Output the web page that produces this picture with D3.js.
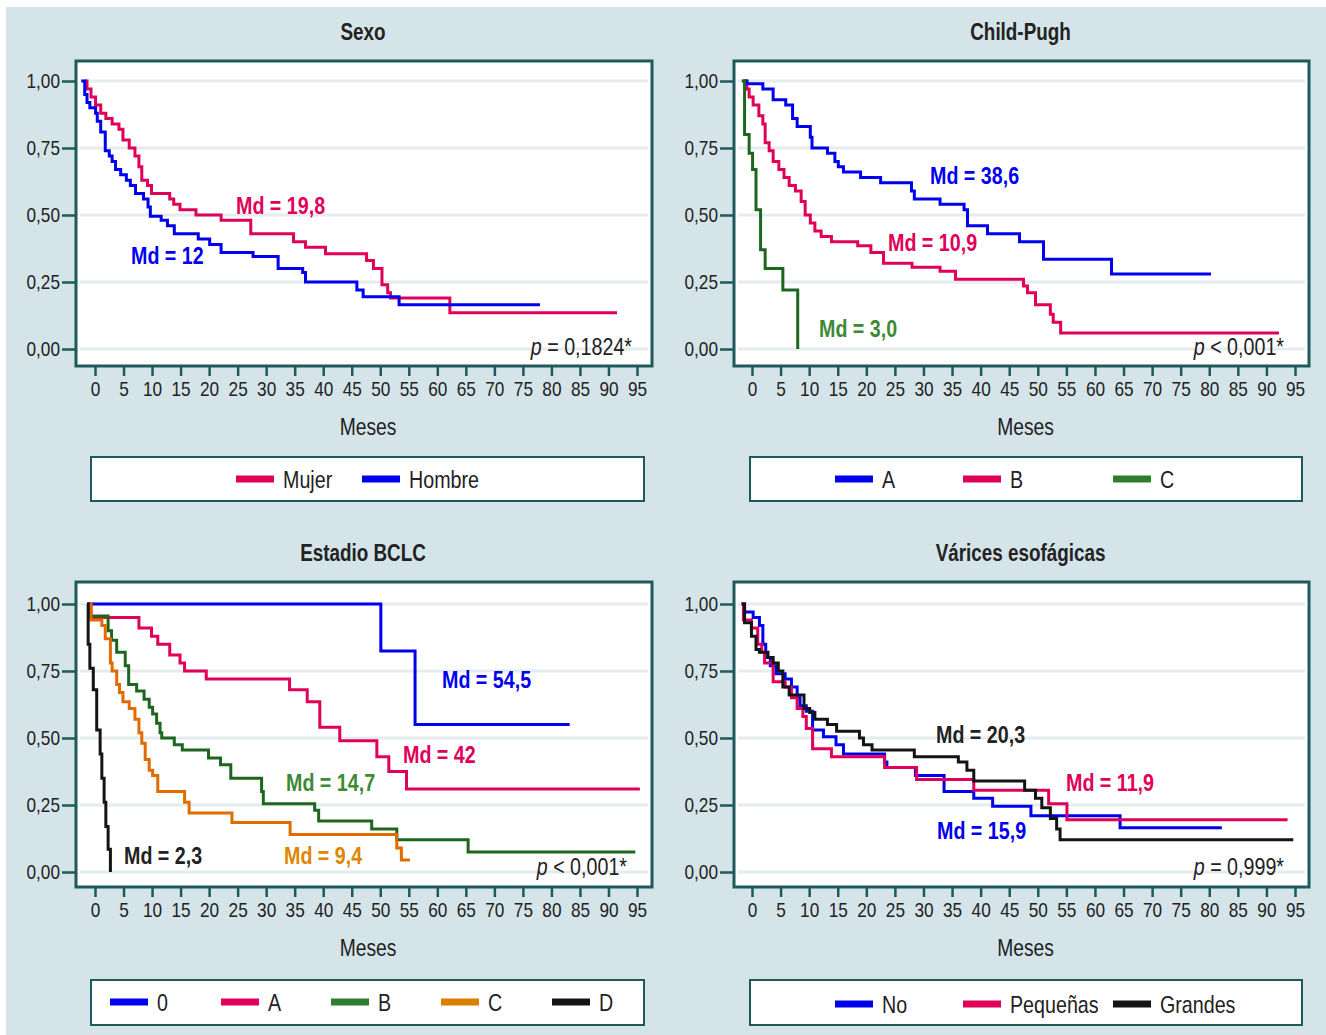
<!DOCTYPE html>
<html><head><meta charset="utf-8">
<script src="https://cdn.jsdelivr.net/npm/d3@7"></script>
<style>
body{margin:0;background:#fff;}
text{font-family:"Liberation Sans",Arial,sans-serif;}
</style></head><body>
<svg id="c" width="1326" height="1035"></svg>
<script>
// ---------- DATA ----------
const xTicks = [0,5,10,15,20,25,30,35,40,45,50,55,60,65,70,75,80,85,90,95];
const yTicks = [0,0.25,0.5,0.75,1];
const yTickLabels = ["0,00","0,25","0,50","0,75","1,00"];
const titles = ["Sexo","Child-Pugh","Estadio BCLC","Várices esofágicas"];
const pValues = ["= 0,1824*","< 0,001*","< 0,001*","= 0,999*"];

// Sexo
const sexoCategories = ["Mujer","Hombre"];
const mujer = [[-1.8,1],[-1.4,0.97],[-0.7,0.94],[0.1,0.91],[1.0,0.88],[1.9,0.86],[3.0,0.84],[4.2,0.82],[4.9,0.78],[6.0,0.75],[7.0,0.72],[7.7,0.68],[8.2,0.63],[9.2,0.61],[9.9,0.58],[13.1,0.56],[13.8,0.54],[14.9,0.52],[17.7,0.50],[22.1,0.48],[27.3,0.43],[34.8,0.40],[36.9,0.38],[40.4,0.355],[47.6,0.33],[48.8,0.30],[50.3,0.24],[51.3,0.21],[51.8,0.19],[62.2,0.135],[91.5,0.135]];
const hombre = [[-2.4,1],[-1.8,0.95],[-1.4,0.92],[-0.9,0.90],[0.1,0.88],[0.4,0.85],[1.0,0.81],[1.8,0.74],[2.5,0.72],[3.0,0.70],[3.6,0.67],[4.5,0.65],[5.5,0.63],[6.2,0.61],[7.1,0.58],[8.5,0.56],[9.3,0.53],[9.7,0.495],[11.6,0.48],[12.7,0.46],[13.9,0.43],[18.1,0.41],[20.1,0.39],[22.1,0.36],[27.7,0.345],[32.1,0.30],[36.4,0.285],[36.9,0.25],[45.9,0.22],[47.0,0.195],[53.3,0.165],[78.0,0.165]];
const sexoMedians = ["Md = 19,8","Md = 12"];

// Child-Pugh
const cpCategories = ["A","B","C"];
const cpA = [[-1.6,1],[-0.9,0.99],[1.9,0.97],[3.7,0.93],[5.9,0.91],[7.1,0.86],[7.9,0.83],[10.2,0.79],[10.5,0.75],[13.2,0.73],[14.5,0.70],[15.1,0.68],[16.0,0.66],[19.0,0.64],[22.5,0.62],[27.9,0.59],[28.4,0.56],[32.9,0.54],[37.1,0.52],[37.7,0.46],[41.2,0.43],[46.8,0.40],[51.0,0.335],[62.9,0.28],[80.3,0.28]];
const cpB = [[-1.3,1],[-0.9,0.97],[-0.5,0.94],[0.2,0.91],[1.2,0.87],[1.9,0.84],[2.3,0.77],[3.0,0.74],[3.7,0.70],[4.7,0.67],[5.6,0.64],[6.5,0.61],[7.6,0.59],[8.6,0.55],[9.3,0.50],[10.2,0.47],[11.0,0.44],[12.1,0.42],[13.9,0.40],[18.5,0.385],[20.8,0.36],[23.0,0.32],[28.0,0.305],[32.9,0.29],[35.6,0.26],[47.5,0.235],[48.2,0.21],[49.6,0.165],[52.2,0.13],[52.7,0.10],[54.0,0.06],[92.2,0.06]];
const cpC = [[-1.8,1],[-1.3,0.80],[-0.5,0.73],[0.1,0.67],[0.7,0.52],[1.5,0.37],[2.3,0.30],[5.4,0.22],[8.0,0]];
const cpMedians = ["Md = 38,6","Md = 10,9","Md = 3,0"];

// Estadio BCLC
const bclcCategories = ["0","A","B","C","D"];
const b0 = [[-1.4,1],[50.1,0.825],[56.1,0.55],[83.2,0.55]];
const bA = [[-1.0,1],[-0.7,0.95],[7.7,0.91],[9.9,0.88],[11.0,0.85],[13.1,0.81],[14.9,0.78],[15.7,0.75],[19.5,0.72],[34.1,0.68],[37.2,0.635],[39.4,0.54],[42.9,0.49],[49.4,0.43],[51.5,0.375],[54.6,0.31],[95.5,0.31]];
const bB = [[-1.2,1],[-0.9,0.955],[2.3,0.90],[2.9,0.865],[3.8,0.82],[5.3,0.77],[5.9,0.70],[7.3,0.675],[8.6,0.645],[9.5,0.615],[10.1,0.59],[10.8,0.555],[11.4,0.52],[11.7,0.50],[13.9,0.475],[15.3,0.455],[19.9,0.425],[22.0,0.40],[23.8,0.35],[29.2,0.30],[29.5,0.255],[38.5,0.23],[39.2,0.19],[48.5,0.16],[52.9,0.12],[65.4,0.075],[94.7,0.075]];
const bC = [[-0.9,1],[-0.7,0.94],[1.2,0.92],[1.8,0.87],[2.7,0.78],[3.0,0.75],[3.8,0.70],[4.3,0.67],[4.9,0.635],[6.0,0.61],[7.0,0.57],[7.7,0.52],[8.2,0.48],[8.8,0.42],[9.5,0.38],[10.1,0.36],[11.0,0.30],[15.7,0.26],[16.5,0.22],[24.0,0.185],[34.2,0.14],[52.9,0.09],[53.7,0.045],[55.2,0.045]];
const bD = [[-1.4,1],[-1.2,0.85],[-0.9,0.76],[-0.3,0.68],[0.3,0.53],[0.9,0.44],[1.2,0.35],[1.6,0.26],[1.9,0.17],[2.3,0.085],[2.7,0]];
const bclcMedians = ["Md = 54,5","Md = 42","Md = 14,7","Md = 9,4","Md = 2,3"];

// Várices esofágicas
const varCategories = ["No","Pequeñas","Grandes"];
const vNo = [[-1.8,1],[-1.3,0.97],[0.2,0.95],[1.3,0.92],[1.9,0.85],[2.4,0.80],[3.2,0.77],[4.2,0.74],[5.8,0.72],[6.9,0.69],[7.9,0.65],[8.4,0.62],[9.5,0.60],[10.6,0.53],[12.5,0.505],[14.7,0.475],[16.0,0.44],[23.2,0.41],[23.6,0.39],[28.6,0.36],[33.6,0.30],[38.8,0.275],[42.1,0.245],[48.8,0.21],[64.4,0.165],[82.2,0.165]];
const vPeq = [[-1.8,1],[-1.5,0.94],[-0.1,0.91],[1.0,0.85],[1.7,0.82],[2.2,0.78],[3.7,0.71],[5.8,0.69],[6.9,0.65],[7.9,0.61],[8.9,0.58],[9.5,0.535],[10.6,0.46],[13.9,0.43],[23.2,0.39],[28.8,0.345],[38.8,0.305],[51.9,0.255],[55.1,0.195],[93.7,0.195]];
const vGr = [[-1.8,1],[-1.3,0.93],[-0.1,0.88],[0.7,0.83],[1.3,0.82],[2.8,0.80],[3.7,0.78],[4.6,0.75],[5.4,0.69],[6.5,0.66],[9.1,0.61],[10.1,0.595],[11.0,0.57],[13.2,0.55],[14.8,0.525],[18.8,0.50],[19.5,0.475],[21.0,0.455],[28.4,0.43],[36.1,0.41],[37.6,0.38],[38.8,0.34],[47.7,0.305],[49.6,0.275],[50.7,0.24],[52.2,0.20],[53.3,0.16],[53.9,0.12],[94.7,0.12]];
const varMedians = ["Md = 20,3","Md = 11,9","Md = 15,9"];

// ---------- STYLE / LAYOUT ----------
const C = {blue:"#0000ee", red:"#e0005a", green:"#1d661d", greenL:"#2f7d2f", greenT:"#3c8a34",
           orange:"#e06c00", orangeL:"#d98000", orangeT:"#dd8600", black:"#141414"};
const teal = "#1e5a5c", bg = "#d4e4e8", grid = "#e4eced";
const SX = 0.82; // narrow font compression

const panels = [
  {title:titles[0], fx:76, fy:61, fw:576, fh:305, x0:95, x95:637, y1:81, y0:349,
   series:[{d:mujer,c:C.red},{d:hombre,c:C.blue}],
   labels:[{t:sexoMedians[0],x:236,y:214,c:C.red},{t:sexoMedians[1],x:131,y:264,c:C.blue}],
   p:{t:pValues[0],x:632,y:355},
   legend:{x:91,y:457,w:553,h:44, cy:479, items:[{t:sexoCategories[0],x:236,c:C.red},{t:sexoCategories[1],x:362,c:C.blue}]}},
  {title:titles[1], fx:734, fy:61, fw:575, fh:305, x0:752, x95:1295, y1:81, y0:349,
   series:[{d:cpB,c:C.red},{d:cpA,c:C.blue},{d:cpC,c:C.green}],
   labels:[{t:cpMedians[0],x:930,y:184,c:C.blue},{t:cpMedians[1],x:888,y:251,c:C.red},{t:cpMedians[2],x:819,y:337,c:C.greenT}],
   p:{t:pValues[1],x:1284,y:355},
   legend:{x:750,y:457,w:552,h:44, cy:479, items:[{t:cpCategories[0],x:835,c:C.blue},{t:cpCategories[1],x:963,c:C.red},{t:cpCategories[2],x:1113,c:C.greenL}]}},
  {title:titles[2], fx:76, fy:582, fw:576, fh:305, x0:95, x95:637, y1:604, y0:872,
   series:[{d:b0,c:C.blue},{d:bA,c:C.red},{d:bB,c:C.green},{d:bC,c:C.orange},{d:bD,c:C.black}],
   labels:[{t:bclcMedians[0],x:442,y:688,c:C.blue},{t:bclcMedians[1],x:403,y:763,c:C.red},{t:bclcMedians[2],x:286,y:791,c:C.greenT},{t:bclcMedians[3],x:284,y:864,c:C.orangeT},{t:bclcMedians[4],x:124,y:864,c:"#222"}],
   p:{t:pValues[2],x:627,y:875},
   legend:{x:91,y:980,w:553,h:45, cy:1002, items:[{t:bclcCategories[0],x:110,c:C.blue},{t:bclcCategories[1],x:221,c:C.red},{t:bclcCategories[2],x:331,c:C.greenL},{t:bclcCategories[3],x:441,c:C.orangeL},{t:bclcCategories[4],x:552,c:C.black}]}},
  {title:titles[3], fx:734, fy:582, fw:575, fh:305, x0:752, x95:1295, y1:604, y0:872,
   series:[{d:vNo,c:C.blue},{d:vPeq,c:C.red},{d:vGr,c:C.black}],
   labels:[{t:varMedians[0],x:936,y:743,c:"#222"},{t:varMedians[1],x:1066,y:791,c:C.red},{t:varMedians[2],x:937,y:839,c:C.blue}],
   p:{t:pValues[3],x:1284,y:875},
   legend:{x:750,y:980,w:552,h:45, cy:1004, items:[{t:varCategories[0],x:835,c:C.blue},{t:varCategories[1],x:963,c:C.red},{t:varCategories[2],x:1113,c:C.black}]}}
];

function ntext(g, x, y, str, size, opts={}) {
  const t = g.append("text").attr("transform",`translate(${x},${y}) scale(${SX},1)`)
    .attr("font-size",size).attr("fill",opts.fill||"#222");
  if (opts.anchor) t.attr("text-anchor",opts.anchor);
  if (opts.bold) t.attr("font-weight","bold");
  if (str !== null) t.text(str);
  return t;
}

const svg = d3.select("#c");
svg.append("rect").attr("x",6).attr("y",7).attr("width",1320).attr("height",1028).attr("fill",bg);

panels.forEach(P => {
  const g = svg.append("g");
  const x = d3.scaleLinear().domain([0,95]).range([P.x0,P.x95]);
  const y = d3.scaleLinear().domain([0,1]).range([P.y0,P.y1]);
  const bottom = P.fy+P.fh;
  // title
  ntext(g, P.fx+P.fw/2-1, P.fy-21, P.title, 23, {anchor:"middle", bold:true});
  // plot bg
  g.append("rect").attr("x",P.fx).attr("y",P.fy).attr("width",P.fw).attr("height",P.fh).attr("fill","#fff");
  // grid
  g.selectAll(".gl").data(yTicks).enter().append("line")
    .attr("x1",P.fx+4).attr("x2",P.fx+P.fw-4).attr("y1",d=>y(d)).attr("y2",d=>y(d))
    .attr("stroke",grid).attr("stroke-width",3);
  // axes
  const xa = d3.axisBottom(x).tickValues(xTicks).tickSize(10).tickPadding(5).tickFormat(d3.format("d"));
  const xg = g.append("g").attr("transform",`translate(0,${bottom})`).call(xa);
  xg.select(".domain").remove();
  xg.selectAll(".tick line").attr("stroke",teal).attr("stroke-width",2.5);
  xg.selectAll(".tick text").attr("font-size",21).attr("fill","#222").attr("font-family",null)
    .attr("transform",`scale(${SX},1)`);
  const ya = d3.axisLeft(y).tickValues(yTicks).tickSize(14).tickPadding(2).tickFormat(d=>yTickLabels[yTicks.indexOf(d)]);
  const yg = g.append("g").attr("transform",`translate(${P.fx},0)`).call(ya);
  yg.select(".domain").remove();
  yg.selectAll(".tick line").attr("stroke",teal).attr("stroke-width",2.5);
  yg.selectAll(".tick text").attr("font-size",21).attr("fill","#222").attr("font-family",null)
    .attr("x",-16/SX).attr("transform",`scale(${SX},1)`);
  // curves
  const line = d3.line().x(d=>x(d[0])).y(d=>y(d[1])).curve(d3.curveStepAfter);
  P.series.forEach(s => {
    g.append("path").attr("d",line(s.d)).attr("fill","none").attr("stroke",s.c)
      .attr("stroke-width",3).attr("stroke-linejoin","miter");
  });
  // frame
  g.append("rect").attr("x",P.fx).attr("y",P.fy).attr("width",P.fw).attr("height",P.fh)
    .attr("fill","none").attr("stroke",teal).attr("stroke-width",3);
  // median labels
  P.labels.forEach(l => ntext(g, l.x, l.y, l.t, 24, {bold:true, fill:l.c}));
  // p value
  const pt = ntext(g, P.p.x, P.p.y, null, 24, {anchor:"end"});
  pt.append("tspan").attr("font-style","italic").text("p");
  pt.append("tspan").text(" "+P.p.t);
  // x label
  ntext(g, P.fx+P.fw/2+4, bottom+69, "Meses", 23.5, {anchor:"middle"});
  // legend
  const L = P.legend;
  g.append("rect").attr("x",L.x).attr("y",L.y).attr("width",L.w).attr("height",L.h)
    .attr("fill","#fff").attr("stroke",teal).attr("stroke-width",2);
  L.items.forEach(it => {
    g.append("rect").attr("x",it.x).attr("y",L.cy-3.5).attr("width",38).attr("height",7).attr("fill",it.c);
    ntext(g, it.x+47, L.cy+8.5, it.t, 24);
  });
});
</script></body></html>
